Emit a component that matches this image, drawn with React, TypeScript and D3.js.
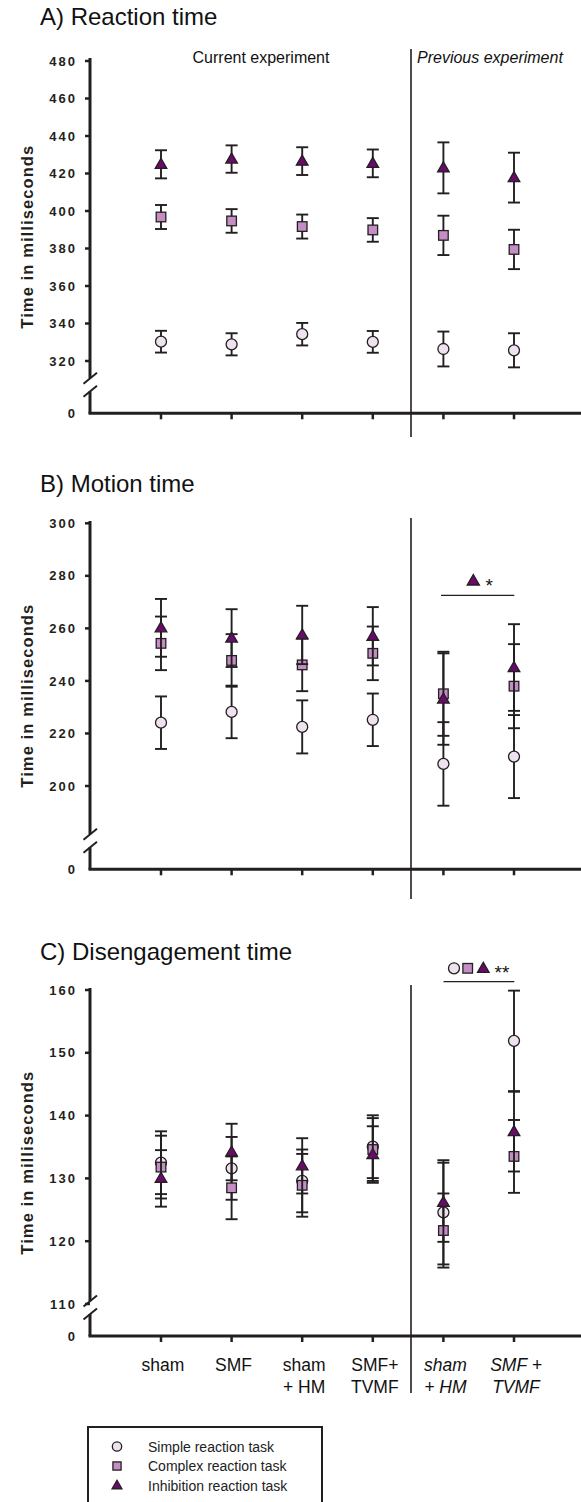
import React from 'react';
import * as d3 from 'd3';

// ---------- DATA ----------
const categories = ['sham', 'SMF', 'sham + HM', 'SMF+ TVMF', 'prev sham + HM', 'prev SMF + TVMF'];
const categoryLabelLines = [['sham'], ['SMF'], ['sham', '+ HM'], ['SMF+', 'TVMF'], ['sham', '+ HM'], ['SMF +', 'TVMF']];
const categoryItalic = [false, false, false, false, true, true];

const seriesNames = ['Simple reaction task', 'Complex reaction task', 'Inhibition reaction task'];

// A) Reaction time
const reactionSimple = [330.3, 328.9, 334.3, 330.2, 326.4, 325.7];
const reactionSimpleErr = [5.8, 5.9, 6.0, 5.8, 9.3, 9.1];
const reactionComplex = [396.8, 394.7, 391.7, 389.9, 387.0, 379.5];
const reactionComplexErr = [6.4, 6.3, 6.4, 6.3, 10.5, 10.5];
const reactionInhibition = [424.9, 427.7, 426.6, 425.4, 423.0, 417.8];
const reactionInhibitionErr = [7.5, 7.3, 7.4, 7.4, 13.6, 13.3];
const reactionTicks = [320, 340, 360, 380, 400, 420, 440, 460, 480];

// B) Motion time
const motionSimple = [224.1, 228.2, 222.5, 225.2, 208.4, 211.2];
const motionSimpleErr = [10.0, 10.0, 10.1, 10.0, 15.9, 15.8];
const motionComplex = [254.3, 247.8, 246.1, 250.5, 235.1, 238.0];
const motionComplexErr = [10.2, 10.0, 10.0, 10.2, 16.0, 16.0];
const motionInhibition = [260.2, 256.3, 257.5, 257.0, 233.1, 245.1];
const motionInhibitionErr = [11.0, 11.0, 11.1, 11.1, 17.4, 16.5];
const motionTicks = [200, 220, 240, 260, 280, 300];

// C) Disengagement time
const disSimple = [132.5, 131.6, 129.6, 135.05, 124.6, 151.9];
const disSimpleErr = [5.0, 5.0, 5.0, 5.0, 8.3, 8.0];
const disComplex = [131.8, 128.5, 128.9, 134.6, 121.7, 133.5];
const disComplexErr = [5.0, 5.0, 5.0, 5.0, 5.9, 5.8];
const disInhibition = [130.0, 134.2, 132.0, 133.8, 126.2, 137.45];
const disInhibitionErr = [4.5, 4.5, 4.4, 4.5, 6.3, 6.35];
const disTicks = [110, 120, 130, 140, 150, 160];

// ---------- STYLE ----------
const INK = '#231f20';
const FONT = '"Liberation Sans", Arial, Helvetica, sans-serif';
const FILLS = ['#efe2ef', '#c48ec4', '#6a0a6a'];
const AXIS_X = 90;
const SEP_X = 411;
const RIGHT = 581;

const xScale = d3.scalePoint<string>().domain(categories).range([161, 514]);

type Panel = {
  title: string;
  titleY: number;
  labelY: number;
  domain: [number, number];
  range: [number, number];
  zeroY: number;
  axisTop: number;
  sepTop: number;
  sepBottom: number;
  ticks: number[];
  series: { values: number[]; errs: number[] }[];
  showHeader?: boolean;
  sig?: { x1: number; x2: number; y: number; markers: number[]; stars: string };
};

const panels: Panel[] = [
  {
    title: 'A) Reaction time', titleY: 24.5, labelY: 236.7,
    domain: [320, 480], range: [361, 61], zeroY: 413.3, axisTop: 58,
    sepTop: 49, sepBottom: 437, ticks: reactionTicks, showHeader: true,
    series: [
      { values: reactionSimple, errs: reactionSimpleErr },
      { values: reactionComplex, errs: reactionComplexErr },
      { values: reactionInhibition, errs: reactionInhibitionErr },
    ],
  },
  {
    title: 'B) Motion time', titleY: 491.5, labelY: 695.7,
    domain: [200, 300], range: [786, 523.3], zeroY: 869.3, axisTop: 521,
    sepTop: 518, sepBottom: 899, ticks: motionTicks,
    series: [
      { values: motionSimple, errs: motionSimpleErr },
      { values: motionComplex, errs: motionComplexErr },
      { values: motionInhibition, errs: motionInhibitionErr },
    ],
    sig: { x1: 441, x2: 514.3, y: 595.3, markers: [2], stars: '*' },
  },
  {
    title: 'C) Disengagement time', titleY: 960, labelY: 1162.7,
    domain: [110, 160], range: [1304, 990], zeroY: 1336, axisTop: 988,
    sepTop: 985, sepBottom: 1393, ticks: disTicks,
    series: [
      { values: disSimple, errs: disSimpleErr },
      { values: disComplex, errs: disComplexErr },
      { values: disInhibition, errs: disInhibitionErr },
    ],
    sig: { x1: 443.5, x2: 514.3, y: 981.7, markers: [0, 1, 2], stars: '**' },
  },
];

function Marker({ kind, x, y, s = 1 }: { kind: number; x: number; y: number; s?: number }) {
  const common = { fill: FILLS[kind], stroke: INK, strokeWidth: 1.3 };
  if (kind === 0) return <circle cx={x} cy={y} r={5.5 * s} {...common} />;
  if (kind === 1) {
    const h = 4.8 * s;
    return <rect x={x - h} y={y - h} width={2 * h} height={2 * h} {...common} />;
  }
  const w = 5.8 * s;
  return <path d={`M${x},${y - 6 * s}L${x + w},${y + 4 * s}L${x - w},${y + 4 * s}Z`} {...common} />;
}

function PanelView({ p }: { p: Panel }) {
  const y = d3.scaleLinear().domain(p.domain).range(p.range);
  const breakUp = p.zeroY - 35;
  const breakLo = p.zeroY - 22;
  const slash = (cy: number) => (
    <line x1={AXIS_X - 6.5} y1={cy + 5.5} x2={AXIS_X + 7} y2={cy - 5.5} stroke={INK} strokeWidth={2} />
  );
  return (
    <g>
      <text x={40} y={p.titleY} fontFamily={FONT} fontSize={24} fill="#111">{p.title}</text>
      <text
        transform={`translate(33,${p.labelY}) rotate(-90)`}
        textAnchor="middle" fontFamily={FONT} fontSize={16.5} fontWeight="bold"
        letterSpacing={1.1} fill={INK}
      >Time in milliseconds</text>

      {p.showHeader && (
        <g fontFamily={FONT} fontSize={16} fill="#111">
          <text x={261} y={63} textAnchor="middle">Current experiment</text>
          <text x={417} y={63} fontStyle="italic">Previous experiment</text>
        </g>
      )}

      {/* y axis */}
      <line x1={AXIS_X} y1={p.axisTop} x2={AXIS_X} y2={breakUp} stroke={INK} strokeWidth={3} />
      <line x1={AXIS_X} y1={breakLo} x2={AXIS_X} y2={p.zeroY} stroke={INK} strokeWidth={3} />
      {slash(breakUp)}
      {slash(breakLo)}
      {p.ticks.map((t) => (
        <g key={t}>
          <line x1={85} x2={AXIS_X} y1={y(t)} y2={y(t)} stroke={INK} strokeWidth={2.5} />
          <text x={77} y={y(t) + 4.6} textAnchor="end" fontFamily={FONT} fontSize={13}
            fontWeight="bold" letterSpacing={2} fill={INK}>{t}</text>
        </g>
      ))}
      <text x={77} y={p.zeroY + 4.6} textAnchor="end" fontFamily={FONT} fontSize={13}
        fontWeight="bold" letterSpacing={2} fill={INK}>0</text>

      {/* x axis */}
      <line x1={AXIS_X - 1.5} x2={RIGHT} y1={p.zeroY} y2={p.zeroY} stroke={INK} strokeWidth={3} />
      {categories.map((c) => (
        <line key={c} x1={xScale(c)} x2={xScale(c)} y1={p.zeroY} y2={p.zeroY + 6} stroke={INK} strokeWidth={2.5} />
      ))}

      {/* separator */}
      <line x1={SEP_X} x2={SEP_X} y1={p.sepTop} y2={p.sepBottom} stroke={INK} strokeWidth={1.6} />

      {/* series: error bars then markers */}
      {p.series.map((s, k) => (
        <g key={k}>
          {s.values.map((v, i) => {
            const cx = xScale(categories[i])!;
            const hi = y(v + s.errs[i]);
            const lo = y(v - s.errs[i]);
            return (
              <g key={i} stroke={INK} strokeWidth={1.9}>
                <line x1={cx} x2={cx} y1={hi} y2={lo} />
                <line x1={cx - 6} x2={cx + 6} y1={hi} y2={hi} />
                <line x1={cx - 6} x2={cx + 6} y1={lo} y2={lo} />
              </g>
            );
          })}
          {s.values.map((v, i) => (
            <Marker key={'m' + i} kind={k} x={xScale(categories[i])!} y={y(v)} />
          ))}
        </g>
      ))}

      {p.sig && (
        <g>
          <line x1={p.sig.x1} x2={p.sig.x2} y1={p.sig.y} y2={p.sig.y} stroke={INK} strokeWidth={1.3} />
          {p.sig.markers.length === 1 ? (
            <>
              <Marker kind={2} x={473.3} y={p.sig.y - 14.5} s={1.05} />
              <text x={489.3} y={p.sig.y - 3} textAnchor="middle" fontFamily={FONT} fontSize={19} fill="#111">{p.sig.stars}</text>
            </>
          ) : (
            <>
              <Marker kind={0} x={454} y={p.sig.y - 13.4} />
              <Marker kind={1} x={467.7} y={p.sig.y - 13.4} />
              <Marker kind={2} x={483.3} y={p.sig.y - 13.4} />
              <text x={502} y={p.sig.y - 3} textAnchor="middle" fontFamily={FONT} fontSize={19} fill="#111">{p.sig.stars}</text>
            </>
          )}
        </g>
      )}
    </g>
  );
}

export default function App() {
  return (
    <div style={{ position: 'absolute', left: 0, top: 0 }}>
      <svg width={581} height={1502} viewBox="0 0 581 1502" style={{ display: 'block', background: '#fff' }}>
        <rect x={0} y={0} width={581} height={1502} fill="#fff" />
        {panels.map((p, i) => <PanelView key={i} p={p} />)}

        {/* category labels */}
        <g fontFamily={FONT} fontSize={17.5} fill="#111">
          {categoryLabelLines.map((lines, i) => (
            <text key={i} textAnchor="middle" fontStyle={categoryItalic[i] ? 'italic' : 'normal'}>
              {lines.map((ln, j) => (
                <tspan key={j} x={xScale(categories[i])! + 2} y={1370.5 + j * 22.5}>{ln}</tspan>
              ))}
            </text>
          ))}
        </g>

        {/* legend */}
        <rect x={88} y={1427} width={234} height={110} fill="none" stroke={INK} strokeWidth={2} />
        {seriesNames.map((n, i) => (
          <g key={n}>
            <Marker kind={i} x={117} y={1446.5 + i * 19.5} s={0.85} />
            <text x={148} y={1451.5 + i * 19.5} fontFamily={FONT} fontSize={14} fill="#222">{n}</text>
          </g>
        ))}
      </svg>
    </div>
  );
}
